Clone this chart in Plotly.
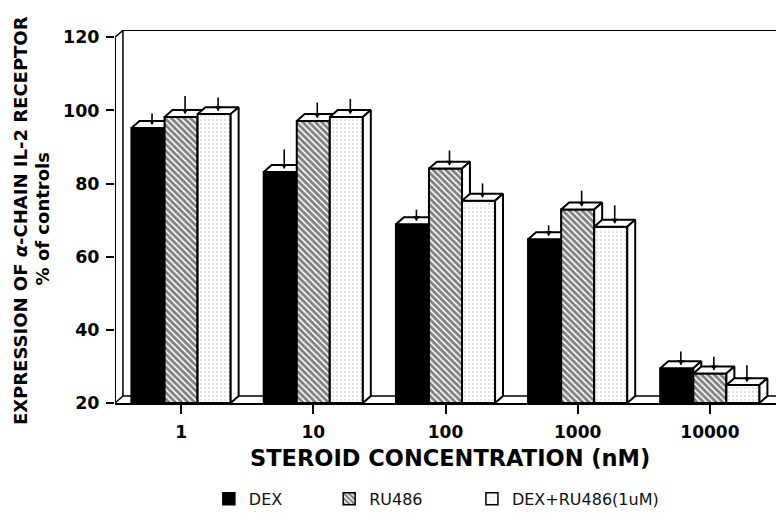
import plotly.graph_objects as go

# ---------------- data ----------------
concentrations = ["1", "10", "100", "1000", "10000"]
series_names = ["DEX", "RU486", "DEX+RU486(1uM)"]
dex = [95.2, 83.2, 68.9, 64.8, 29.5]
ru486 = [98.2, 97.1, 84.1, 72.9, 28.1]
dex_ru486 = [99.0, 98.2, 75.3, 68.2, 24.9]
dex_err = [3.0, 5.2, 3.0, 2.8, 3.6]
ru486_err = [4.8, 4.1, 4.0, 4.2, 3.6]
dex_ru486_err = [3.6, 4.0, 3.8, 4.9, 4.5]
y_ticks = [20, 40, 60, 80, 100, 120]

values = [dex, ru486, dex_ru486]
errors = [dex_err, ru486_err, dex_ru486_err]

# ---------------- geometry / style ----------------
Y_BASE, Y_TOP = 20, 122
X_MIN, X_MAX = -0.5, 4.5
BAR_W = 0.25          # width of one bar (axis units)
DX, DY = 0.06, 1.9    # 3-D depth offset (x units, y units)
ARROW_OFF = 0.8
LW = 2.0
BOLD = "DejaVu Sans"

hatch = dict(shape="\\", fgcolor="black", bgcolor="white", size=4.5, solidity=0.62)
dots = dict(shape=".", fgcolor="#808080", bgcolor="white", size=4, solidity=0.12)

fills = [
    dict(fillcolor="black", fillpattern=None),
    dict(fillcolor="white", fillpattern=hatch),
    dict(fillcolor="white", fillpattern=dots),
]
bar_markers = [
    dict(color="black", line=dict(color="black", width=1.5)),
    dict(color="white", pattern=hatch, line=dict(color="black", width=1.5)),
    dict(color="white", pattern=dots, line=dict(color="black", width=1.5)),
]

fig = go.Figure()

# Bar traces (hold data + legend); covered by the 3-D faces drawn on top.
legend_ids = ["legend", "legend2", "legend3"]
for i, name in enumerate(series_names):
    fig.add_trace(go.Bar(
        x=list(range(len(concentrations))), y=values[i], name=name,
        marker=bar_markers[i], legend=legend_ids[i], hoverinfo="skip",
    ))

def poly(xs, ys, fill):
    fig.add_trace(go.Scatter(
        x=xs + [xs[0]], y=ys + [ys[0]], mode="lines", fill="toself",
        line=dict(color="black", width=LW), showlegend=False, hoverinfo="skip",
        cliponaxis=False, **fill))

def line(xs, ys, width=1.5):
    fig.add_trace(go.Scatter(
        x=xs, y=ys, mode="lines", line=dict(color="black", width=width),
        showlegend=False, hoverinfo="skip", cliponaxis=False))

# ---- frame: back wall, floor, front y axis ----
line([X_MIN, X_MIN], [Y_BASE, y_ticks[-1]], 2.0)
line([X_MIN, X_MIN + DX, X_MAX], [y_ticks[-1], y_ticks[-1] + DY, y_ticks[-1] + DY])
line([X_MIN + DX, X_MIN + DX], [Y_BASE + DY, y_ticks[-1] + DY])
line([X_MIN, X_MIN + DX, X_MAX], [Y_BASE, Y_BASE + DY, Y_BASE + DY])

white = dict(fillcolor="white", fillpattern=None)

# ---- 3-D bars, painter order (left to right) ----
for g in range(len(concentrations)):
    for i in range(3):
        v = values[i][g]
        x0 = g + (i - 1) * BAR_W - BAR_W / 2
        x1 = x0 + BAR_W
        poly([x0, x0, x1, x1], [Y_BASE, v, v, Y_BASE], fills[i])                      # front
        poly([x0, x0 + DX, x1 + DX, x1], [v, v + DY, v + DY, v], white)                # top
        poly([x1, x1, x1 + DX, x1 + DX], [Y_BASE, v, v + DY, Y_BASE + DY], white)      # side

# ---- error arrows ----
for i in range(3):
    ex, ey, mx, my = [], [], [], []
    for g in range(len(concentrations)):
        v = values[i][g]
        xc = g + (i - 1) * BAR_W + DX / 2
        yc = v + DY / 2
        ex += [xc, xc, None]
        ey += [yc, yc + errors[i][g], None]
        mx.append(xc)
        my.append(yc + ARROW_OFF)
    fig.add_trace(go.Scatter(x=ex, y=ey, mode="lines", line=dict(color="black", width=1.6),
                             showlegend=False, hoverinfo="skip", cliponaxis=False))
    fig.add_trace(go.Scatter(x=mx, y=my, mode="markers",
                             marker=dict(symbol="triangle-down", size=6, color="black"),
                             showlegend=False, hoverinfo="skip", cliponaxis=False))

# ---------------- layout ----------------
leg_common = dict(orientation="h", xanchor="left", yanchor="middle", y=-0.257,
                  bgcolor="rgba(0,0,0,0)", borderwidth=0,
                  font=dict(family="DejaVu Sans", size=16, color="#111"))
fig.update_layout(
    width=776, height=513,
    margin=dict(l=115, r=0, t=30, b=110, autoexpand=False),
    paper_bgcolor="white", plot_bgcolor="white",
    barmode="group", bargap=0.25, bargroupgap=0,
    showlegend=True,
    legend=dict(x=0.142, **leg_common),
    legend2=dict(x=0.324, **leg_common),
    legend3=dict(x=0.540, **leg_common),
    xaxis=dict(range=[X_MIN, X_MAX], tickmode="array", tickvals=list(range(len(concentrations))),
               ticktext=concentrations, showline=True, linecolor="black", linewidth=2,
               ticks="outside", ticklen=9, tickwidth=1.5, tickcolor="black",
               showgrid=False, zeroline=False, ticklabelstandoff=4, automargin=False,
               tickfont=dict(family=BOLD, size=17, color="black", weight="bold")),
    yaxis=dict(range=[Y_BASE, Y_TOP], tickmode="array", tickvals=y_ticks,
               showline=False, ticks="outside", ticklen=8, tickwidth=1.5, tickcolor="black",
               showgrid=False, zeroline=False, ticklabelstandoff=3, automargin=False,
               tickfont=dict(family=BOLD, size=17.5, color="black", weight="bold")),
    annotations=[
        dict(text="STEROID CONCENTRATION (nM)", xref="paper", yref="paper", x=0.507, y=-0.147,
             xanchor="center", yanchor="middle", showarrow=False,
             font=dict(family=BOLD, size=22.5, color="black", weight="bold")),
        dict(text="EXPRESSION OF <i>α</i>-CHAIN IL-2 RECEPTOR", xref="paper", yref="paper",
             x=-0.142, y=0.488, xanchor="center", yanchor="middle", textangle=-90, showarrow=False,
             font=dict(family=BOLD, size=18, color="black", weight="bold")),
        dict(text="% of controls", xref="paper", yref="paper",
             x=-0.110, y=0.493, xanchor="center", yanchor="middle", textangle=-90, showarrow=False,
             font=dict(family=BOLD, size=18, color="black", weight="bold")),
    ],
)

fig.write_html("out.html", config={"displayModeBar": False},
               post_script="document.body.style.margin='0';")
